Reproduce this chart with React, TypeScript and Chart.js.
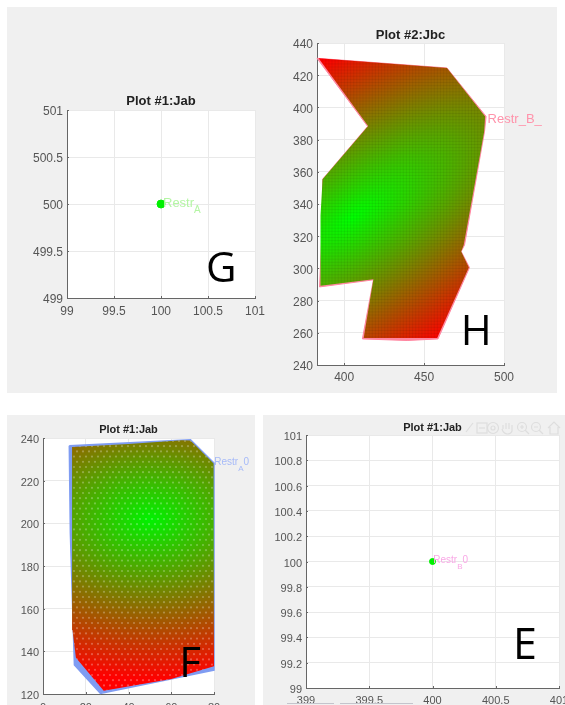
import React, { useEffect, useRef } from "react";
import { Chart, registerables } from "chart.js";

Chart.register(...registerables);

// ---------- data ----------
const gXTicks = [99, 99.5, 100, 100.5, 101];
const gYTicks = [499, 499.5, 500, 500.5, 501];
const gPoint = [{ x: 100, y: 500 }];

const hXTicks = [400, 450, 500];
const hYTicks = [240, 260, 280, 300, 320, 340, 360, 380, 400, 420, 440];
const hBoundary = [
  [383, 430.5], [464.3, 424.5], [488.8, 394.4], [487.8, 385], [475.3, 314.6], [473.2, 310.5],
  [478.4, 300.5], [458.7, 256.2], [439.4, 255.2], [411.4, 256.2], [418.3, 292.9], [384.6, 288.5],
  [386.5, 332.2], [386.5, 355.4], [414.7, 388.2], [383, 430.5],
];
const hField = [
  [384, 430.5], [464.3, 424.5], [488.2, 394.4], [487.6, 385], [474.8, 314.6], [473.2, 310.5],
  [478, 300.5], [458.2, 256.8], [412.2, 256.8], [418.3, 293.2], [385.2, 289.2],
  [385.2, 333], [386.5, 355.4], [415, 388.5], [384, 430.5],
];
const hFieldCenter = [405, 332];
const hFieldQuad = [4.73e-5, 8.64e-5, -4.385e-5];

const fXTicks = [0, 20, 40, 60, 80];
const fYTicks = [120, 140, 160, 180, 200, 220, 240];
const fBoundary = [
  [12.3, 236.4], [69, 239.2], [80, 228.3], [80, 131.2], [26.9, 120.3], [14.7, 133.6], [12.8, 195.4], [12.3, 236.4],
];
const fField = [
  [13.6, 235.8], [40, 237.2], [65, 239], [69, 238.8], [79.8, 228], [80, 133], [60, 127], [28.4, 121.5],
  [15.4, 137], [13.8, 150], [13.6, 235.8],
];
const fFieldCenter = [50, 202];
const fFieldQuad = [8.26e-5, 1.78e-4, 0];

const eXTicks = [399, 399.5, 400, 400.5, 401];
const eYTicks = [99, 99.2, 99.4, 99.6, 99.8, 100, 100.2, 100.4, 100.6, 100.8, 101];
const ePoint = [{ x: 400, y: 100 }];

const toXY = (rows: number[][]) => rows.map(([x, y]) => ({ x, y }));

type Panel = {
  title: string; titleSize: number; titleGap: number; tickSize: number; tickGapX: number; tickGapY: number;
  box: number[]; plot: number[]; xRange: number[]; yRange: number[]; xTicks: number[]; yTicks: number[];
  boundary?: number[][]; field?: number[][]; center?: number[]; quad?: number[]; texture?: string;
  edgeColor?: string; edgeWidth?: number; point?: { x: number; y: number }[]; pointRadius?: number;
  label: { at: number[]; main: string; sub: string; tail: string; color: string; size: number; subSize: number };
  letter: { at: number[]; text: string; size: number };
};

const panels: Panel[] = [
  {
    title: "Plot #1:Jab", titleSize: 13, titleGap: 1.8, tickSize: 12, tickGapX: 6, tickGapY: 4,
    box: [7, 90, 285, 330], plot: [67, 110, 255, 298], xRange: [99, 101], yRange: [499, 501],
    xTicks: gXTicks, yTicks: gYTicks, point: gPoint, pointRadius: 4,
    label: { at: [100, 500], main: "Restr", sub: "A", tail: "", color: "#b4f5a4", size: 13, subSize: 10 },
    letter: { at: [100.64, 499.17], text: "G", size: 42 },
  },
  {
    title: "Plot #2:Jbc", titleSize: 13, titleGap: 1, tickSize: 12, tickGapX: 5, tickGapY: 4,
    box: [285, 20, 550, 385], plot: [317, 43, 504, 365], xRange: [383, 500], yRange: [240, 440],
    xTicks: hXTicks, yTicks: hYTicks, boundary: hBoundary, field: hField, center: hFieldCenter, quad: hFieldQuad,
    texture: "grid", edgeColor: "#ff86a0", edgeWidth: 1,
    label: { at: [488.5, 392], main: "Restr_B_", sub: "", tail: "", color: "#ff93ab", size: 13, subSize: 9 },
    letter: { at: [482.7, 252.2], text: "H", size: 42 },
  },
  {
    title: "Plot #1:Jab", titleSize: 11, titleGap: 2.2, tickSize: 11, tickGapX: 7, tickGapY: 4,
    box: [8, 415, 257, 725], plot: [43, 438, 214, 694], xRange: [0, 80], yRange: [120, 240],
    xTicks: fXTicks, yTicks: fYTicks, boundary: fBoundary, field: fField, center: fFieldCenter, quad: fFieldQuad,
    texture: "dots", edgeColor: "#7f9cf2", edgeWidth: 1.5,
    label: { at: [79.2, 228], main: "Restr", sub: "A", tail: "0", color: "#a6baf8", size: 10, subSize: 8 },
    letter: { at: [68.8, 128], text: "F", size: 42 },
  },
  {
    title: "Plot #1:Jab", titleSize: 11, titleGap: 1.8, tickSize: 11, tickGapX: 6, tickGapY: 4,
    box: [264, 415, 600, 725], plot: [306, 435, 559, 688], xRange: [399, 401], yRange: [99, 101],
    xTicks: eXTicks, yTicks: eYTicks, point: ePoint, pointRadius: 3,
    label: { at: [399.99, 100], main: "Restr", sub: "B", tail: "0", color: "#f9a8e6", size: 10, subSize: 8 },
    letter: { at: [400.73, 99.23], text: "E", size: 43 },
  },
];

const SANS = "'Liberation Sans', Arial, sans-serif";

function fieldPattern(chart: any, p: Panel) {
  const c = (chart as any).$fieldPattern;
  if (c) return c;
  if (!chart.chartArea) return "rgba(0,0,0,0)";
  const { x: sx, y: sy } = chart.scales;
  const [cx, cy] = p.center!;
  const [a, b, q] = p.quad!;
  const w = chart.width, h = chart.height;
  const off = document.createElement("canvas");
  off.width = w; off.height = h;
  const o = off.getContext("2d")!;
  const img = o.createImageData(w, h);
  for (let py = 0; py < h; py++) {
    const dy = sy.getValueForPixel(py) - cy;
    for (let px = 0; px < w; px++) {
      const dx = sx.getValueForPixel(px) - cx;
      const t = Math.min(1, Math.sqrt(Math.max(0, a * dx * dx + b * dy * dy + 2 * q * dx * dy)));
      const i = (py * w + px) * 4;
      img.data[i] = 255 * t; img.data[i + 1] = 255 * (1 - t) * (p.texture === "dots" ? 0.95 : 1); img.data[i + 2] = 0; img.data[i + 3] = 255;
    }
  }
  o.putImageData(img, 0, 0);
  if (p.texture === "grid") {
    o.fillStyle = "rgba(0,0,0,0.06)";
    for (let x = 0; x < w; x += 3.1) o.fillRect(x, 0, 1, h);
    for (let y = 0; y < h; y += 3.1) o.fillRect(0, y, w, 1);
  } else {
    o.fillStyle = "rgba(255,255,255,0.28)";
    let row = 0;
    for (let y = 0; y < h; y += 5.2, row++) {
      for (let x = row % 2 ? 3 : 0; x < w; x += 6) {
        o.beginPath(); o.arc(x, y, 1.1, 0, Math.PI * 2); o.fill();
      }
    }
  }
  const pat = chart.ctx.createPattern(off, "no-repeat");
  (chart as any).$fieldPattern = pat;
  return pat;
}

function ChartPanel({ p }: { p: Panel }) {
  const ref = useRef<HTMLCanvasElement>(null);
  useEffect(() => {
    const [bl, bt, br, bb] = p.box;
    const [pl, pt, pr, pb] = p.plot;
    const datasets: any[] = [];
    if (p.field) {
      datasets.push({
        label: "Field", data: toXY(p.field), showLine: true, fill: "shape", borderWidth: 0, pointRadius: 0, order: 1, clip: false,
        backgroundColor: (ctx: any) => fieldPattern(ctx.chart, p),
      });
      datasets.push({
        label: "Boundary", data: toXY(p.boundary!), showLine: true, fill: "shape", backgroundColor: p.edgeColor,
        borderColor: p.edgeColor, borderWidth: p.edgeWidth, pointRadius: 0, order: 2, clip: false,
      });
    }
    if (p.point) {
      datasets.push({ label: "Point", data: p.point, pointRadius: p.pointRadius, pointBackgroundColor: "#00f000", pointBorderColor: "#00f000", order: 0 });
    }
    const plotDecor = {
      id: "plotDecor",
      beforeDraw(chart: any) {
        const { left, top, width, height } = chart.chartArea;
        chart.ctx.fillStyle = "#ffffff";
        chart.ctx.fillRect(left, top, width, height);
      },
      afterDraw(chart: any) {
        const { ctx, chartArea: ca, scales } = chart;
        ctx.save();
        ctx.strokeStyle = "#666666";
        ctx.lineWidth = 1;
        for (const v of p.xTicks) {
          const x = Math.round(scales.x.getPixelForValue(v)) + 0.5;
          ctx.beginPath(); ctx.moveTo(x, ca.bottom); ctx.lineTo(x, ca.bottom - 2); ctx.stroke();
        }
        for (const v of p.yTicks) {
          const y = Math.round(scales.y.getPixelForValue(v)) + 0.5;
          ctx.beginPath(); ctx.moveTo(ca.left, y); ctx.lineTo(ca.left + 2, y); ctx.stroke();
        }
        const l = p.label;
        let x = scales.x.getPixelForValue(l.at[0]) + 2;
        const y = scales.y.getPixelForValue(l.at[1]) - 1;
        ctx.fillStyle = l.color;
        ctx.textAlign = "left";
        ctx.textBaseline = "middle";
        ctx.font = `${l.size}px ${SANS}`;
        ctx.fillText(l.main, x, y);
        x += ctx.measureText(l.main).width;
        if (l.sub) {
          ctx.font = `${l.subSize}px ${SANS}`;
          ctx.fillText(l.sub, x, y + l.size * 0.58);
          x += ctx.measureText(l.sub).width;
        }
        if (l.tail) {
          ctx.font = `${l.size}px ${SANS}`;
          ctx.fillText(l.tail, x, y);
        }
        const L = p.letter;
        ctx.fillStyle = "#000000";
        ctx.textAlign = "center";
        ctx.textBaseline = "alphabetic";
        ctx.font = `${L.size}px 'Open Sans', sans-serif`;
        ctx.fillText(L.text, scales.x.getPixelForValue(L.at[0]), scales.y.getPixelForValue(L.at[1]));
        ctx.restore();
      },
    };
    const axis = (ticks: number[], range: number[], height: number | null, width: number | null, gap: number, shift: number) => ({
      type: "linear",
      min: range[0],
      max: range[1],
      afterBuildTicks: (s: any) => { s.ticks = ticks.map((value) => ({ value })); },
      afterFit: (s: any) => { if (height !== null) s.height = height; if (width !== null) s.width = width; },
      grid: { color: "#e9e9e9", lineWidth: 1, drawTicks: false },
      border: { color: "#666666", width: 1 },
      ticks: {
        color: "#555555", padding: gap, autoSkip: false, maxRotation: 0, labelOffset: shift,
        font: { family: SANS, size: p.tickSize },
        callback: (v: any) => String(v),
      },
    });
    const chart = new Chart(ref.current!, {
      type: "scatter",
      data: { datasets },
      plugins: [plotDecor],
      options: {
        animation: false,
        responsive: false,
        layout: {
          padding: { left: 0, right: br - pr, bottom: 0, top: pt - bt - p.titleSize - p.titleGap },
        },
        scales: {
          x: { ...axis(p.xTicks, p.xRange, bb - pb, null, p.tickGapX, 0), position: "bottom" },
          y: { ...axis(p.yTicks, p.yRange, null, pl - bl, p.tickGapY, 2), position: "left" },
        },
        plugins: {
          legend: { display: false },
          tooltip: { enabled: false },
          title: {
            display: true, text: p.title, fullSize: false, color: "#222222",
            padding: { top: 0, bottom: p.titleGap },
            font: { family: SANS, size: p.titleSize, weight: "bold", lineHeight: 1 },
          },
        },
      },
    } as any);
    return () => chart.destroy();
  }, [p]);
  const [l, t, r, b] = p.box;
  return (
    <canvas
      ref={ref}
      width={r - l}
      height={b - t}
      style={{ position: "absolute", left: l, top: t, width: r - l, height: b - t, filter: "blur(0.5px)" }}
    />
  );
}

const grayRects = [
  [7, 7, 550, 386],
  [7, 415, 248, 290],
  [263, 415, 302, 290],
];

export default function App() {
  return (
    <div style={{ position: "fixed", left: 0, top: 0, width: 565, height: 705, overflow: "hidden", background: "#ffffff" }}>
      {grayRects.map(([x, y, w, h], i) => (
        <div key={i} style={{ position: "absolute", left: x, top: y, width: w, height: h, background: "#f0f0f0" }} />
      ))}
      {panels.map((p, i) => (
        <ChartPanel key={i} p={p} />
      ))}
      <svg
        width={100}
        height={16}
        style={{ position: "absolute", left: 465, top: 420, filter: "blur(0.5px)" }}
        fill="none"
        stroke="#dedede"
        strokeWidth={1.2}
      >
        <path d="M1 12 L8 3" />
        <rect x={12} y={3} width={10} height={10} />
        <path d="M14 8 H20" />
        <circle cx={28} cy={8} r={5.5} />
        <circle cx={28} cy={8} r={2} />
        <path d="M38 9 V5 M41 9 V3 M44 9 V3 M47 9 V5 V11 Q46 14 42 14 Q38 13 37 9" />
        <circle cx={57} cy={7} r={4.5} />
        <path d="M60 10 L64 14 M55 7 H59 M57 5 V9" />
        <circle cx={71} cy={7} r={4.5} />
        <path d="M74 10 L78 14 M69 7 H73" />
        <path d="M83 8 L89 2 L95 8 M85 7 V14 H93 V7" />
      </svg>
      <div style={{ position: "absolute", left: 287, top: 703, width: 47, height: 1, background: "#c4c4cc" }} />
      <div style={{ position: "absolute", left: 340, top: 703, width: 73, height: 1, background: "#c4c4cc" }} />
    </div>
  );
}
